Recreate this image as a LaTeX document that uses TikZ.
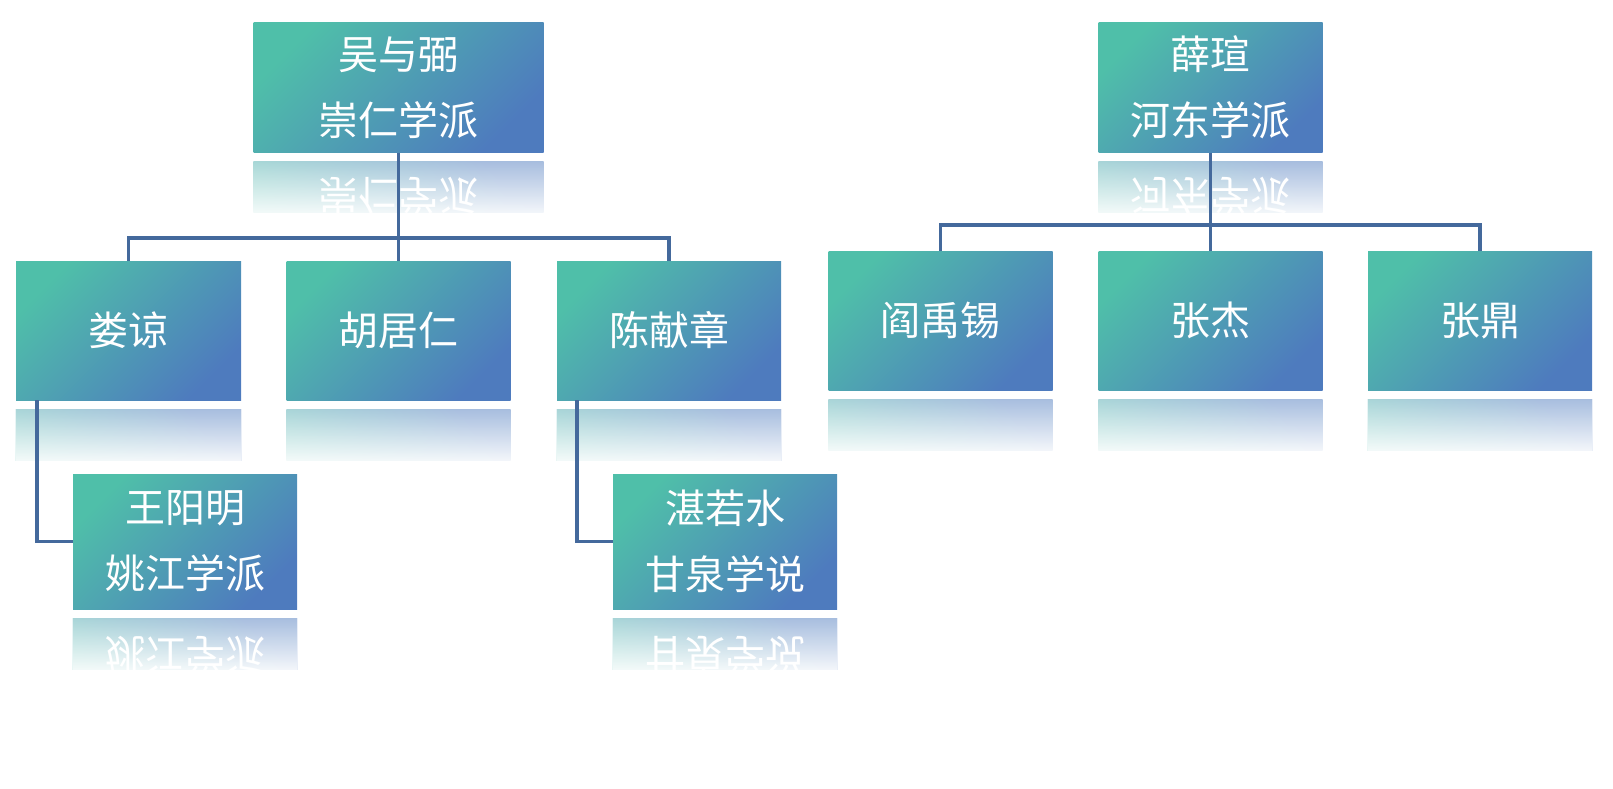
\documentclass[tikz,border=0pt]{standalone}
\usepackage{fontspec}
\newfontfamily\cjk{Noto Sans CJK SC}
\usetikzlibrary{fadings}
\definecolor{cteal}{HTML}{4FBFA9}
\definecolor{cblue}{HTML}{4E7BBE}
\definecolor{lineblue}{HTML}{44699C}
\tikzfading[name=reflfade, top color=transparent!50, middle color=transparent!10, bottom color=transparent!0]
\tikzset{
  box/.style={rectangle, inner sep=0pt, top color=cteal, bottom color=cblue, shading angle=45,
    text=white, font=\cjk\fontsize{40}{66}\selectfont, align=center},
  mirshade/.style={top color=cteal, bottom color=cblue, shading angle=135},
  reftext/.style={text=white, font=\cjk\fontsize{40}{66}\selectfont, inner sep=0pt},
  conn/.style={draw=lineblue, line width=3.8pt},
}
\newcommand\mkrefl[3]{%
  \begin{scope}
    \clip ([yshift=-9pt]#1.south west) rectangle ([yshift=-60pt]#1.south east);
    \shade[mirshade] ([yshift=-9pt]#1.south west) rectangle ([yshift=-140pt]#1.south east);
    \node[reftext, yscale=-1] at ([yshift=-9pt-#3]#1.south) {#2};
  \end{scope}
  \fill[white, path fading=reflfade] ([yshift=-8pt]#1.south west) rectangle ([yshift=-68pt]#1.south east);
}
\begin{document}
\begin{tikzpicture}[x=1pt, y=-1pt]
\useasboundingbox (0,0) rectangle (1613,788);
% left tree
\node[box, minimum width=290pt, minimum height=130pt] (wu) at (398.5,87.5) {吴与弼\\崇仁学派};
\node[box, minimum width=225pt, minimum height=139pt] (lou) at (128.5,330.5) {娄谅};
\node[box, minimum width=224pt, minimum height=139pt] (hu) at (398.5,330.5) {胡居仁};
\node[box, minimum width=224pt, minimum height=139pt] (chen) at (669,330.5) {陈献章};
\node[box, minimum width=224pt, minimum height=135pt] (wang) at (185,541.5) {王阳明\\姚江学派};
\node[box, minimum width=224pt, minimum height=135pt] (zhan) at (725,541.5) {湛若水\\甘泉学说};
% right tree
\node[box, minimum width=224pt, minimum height=130pt] (xue) at (1210.5,87.5) {薛瑄\\河东学派};
\node[box, minimum width=224pt, minimum height=139pt] (yan) at (940.5,320.5) {阎禹锡};
\node[box, minimum width=224pt, minimum height=139pt] (jie) at (1210.5,320.5) {张杰};
\node[box, minimum width=224pt, minimum height=139pt] (ding) at (1480,320.5) {张鼎};
% reflections
\mkrefl{wu}{崇仁学派}{34pt}
\mkrefl{xue}{河东学派}{34pt}
\mkrefl{wang}{姚江学派}{37pt}
\mkrefl{zhan}{甘泉学说}{37pt}
\mkrefl{lou}{}{70pt}
\mkrefl{hu}{}{70pt}
\mkrefl{chen}{}{70pt}
\mkrefl{yan}{}{70pt}
\mkrefl{jie}{}{70pt}
\mkrefl{ding}{}{70pt}
% connectors
\coordinate (barL) at (398.5,238);
\coordinate (barR) at (1210.5,225);
\draw[conn] (wu.south) -- (hu.north);
\draw[conn] (lou.north) |- (barL) -| (chen.north);
\draw[conn] (xue.south) -- (jie.north);
\draw[conn] (yan.north) |- (barR) -| (ding.north);
\draw[conn] ([xshift=21pt]lou.south west) |- (wang.west);
\draw[conn] ([xshift=20pt]chen.south west) |- (zhan.west);
\end{tikzpicture}
\end{document}
